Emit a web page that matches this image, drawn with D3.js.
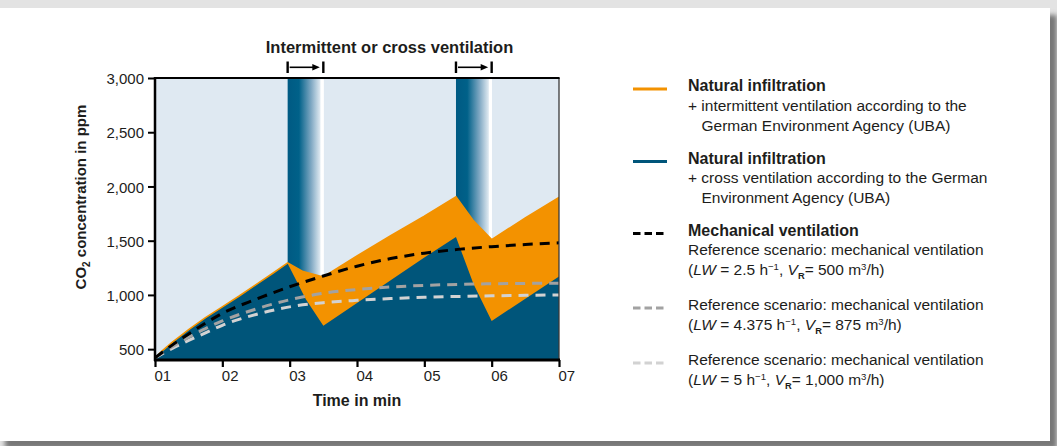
<!DOCTYPE html>
<html lang="en">
<head>
<meta charset="UTF-8">
<title>CO2 concentration - ventilation scenarios</title>
<script src="https://cdn.jsdelivr.net/npm/d3@7"></script>
<style>
  body { margin: 0; background: #e3e3e3; }
  svg { display: block; font-family: "Liberation Sans", Arial, sans-serif; }
</style>
</head>
<body>
<svg id="chart" width="1057" height="446"></svg>
<script>
// time in min, labelled 01..07
const timeTicks = [1, 2, 3, 4, 5, 6, 7];
const ppmTicks = [500, 1000, 1500, 2000, 2500, 3000];

// periods with open windows (min)
const ventWindows = [[2.97, 3.5], [5.47, 6.0]];

// natural infiltration + intermittent ventilation (orange)
const intermittentTime = [1, 1.12, 1.25, 1.5, 1.75, 2.0, 2.25, 2.5, 2.75, 2.97, 3.2, 3.5, 4.0, 4.5, 5.0, 5.47, 5.72, 6.0, 6.5, 7.0];
const intermittentPpm  = [420, 492, 560, 680, 790, 890, 990, 1095, 1200, 1295, 1215, 1165, 1360, 1545, 1725, 1905, 1690, 1510, 1710, 1900];

// natural infiltration + cross ventilation (blue)
const crossTime = [1, 1.12, 1.25, 1.5, 1.75, 2.0, 2.25, 2.5, 2.75, 2.97, 3.24, 3.5, 4.0, 4.5, 5.0, 5.47, 5.73, 6.0, 6.5, 7.0];
const crossPpm  = [420, 490, 557, 677, 787, 887, 987, 1092, 1197, 1290, 960, 715, 925, 1135, 1345, 1535, 1100, 760, 965, 1170];

// mechanical ventilation, reference scenarios
const mechTime = [1, 1.25, 1.5, 1.75, 2, 2.5, 3, 3.5, 4, 4.5, 5, 5.5, 6, 6.5, 7];
const mech500  = [420, 535, 640, 740, 830, 960, 1075, 1175, 1265, 1335, 1385, 1420, 1445, 1465, 1480];
const mech875  = [420, 520, 610, 690, 760, 870, 955, 1015, 1050, 1073, 1088, 1097, 1103, 1106, 1108];
const mech1000 = [420, 505, 580, 650, 720, 820, 890, 928, 950, 966, 978, 986, 992, 996, 1000];

const orange = "#f39200", blue = "#00557a", ink = "#1d1d1b";

const svg = d3.select("#chart");
const defs = svg.append("defs");

// card with drop shadow
defs.append("filter").attr("id", "shadow")
  .attr("x", "-2%").attr("y", "-5%").attr("width", "104%").attr("height", "110%")
  .append("feGaussianBlur").attr("stdDeviation", 2.5);
svg.append("rect").attr("x", 5).attr("y", 15).attr("width", 1052).attr("height", 434)
  .attr("fill", "#777").attr("filter", "url(#shadow)");
svg.append("rect").attr("x", 0).attr("y", 8).attr("width", 1050).attr("height", 433).attr("fill", "#fff");

const plot = { left: 155, right: 559, top: 78, bottom: 360 };
const x = d3.scaleLinear().domain([1, 7]).range([plot.left, plot.right]);
const y = d3.scaleLinear().domain([400, 3000]).range([plot.bottom, plot.top]);

defs.append("clipPath").attr("id", "plotClip").append("rect")
  .attr("x", plot.left).attr("y", plot.top)
  .attr("width", plot.right - plot.left).attr("height", plot.bottom - plot.top);

svg.append("rect")
  .attr("x", plot.left).attr("y", plot.top)
  .attr("width", plot.right - plot.left).attr("height", plot.bottom - plot.top)
  .attr("fill", "#dfe9f2");

// gradient for window opening bands
const grad = defs.append("linearGradient").attr("id", "ventGrad")
  .attr("x1", 0).attr("x2", 1).attr("y1", 0).attr("y2", 0);
[[0, "#005a83"], [0.3, "#006189"], [0.62, "#7ea7c2"], [0.86, "#dde8f0"],
 [0.88, "#ffffff"], [0.95, "#ffffff"], [0.96, "#dfe9f2"], [1, "#dfe9f2"]]
  .forEach(s => grad.append("stop").attr("offset", s[0]).attr("stop-color", s[1]));

const inner = svg.append("g").attr("clip-path", "url(#plotClip)");

inner.selectAll(".vent").data(ventWindows).join("rect")
  .attr("class", "vent")
  .attr("x", d => x(d[0]))
  .attr("width", d => x(d[1]) - x(d[0]) + 2)
  .attr("y", plot.top).attr("height", plot.bottom - plot.top)
  .attr("fill", "url(#ventGrad)");

const area = d3.area().x(d => x(d[0])).y0(y(400)).y1(d => y(d[1]));
const line = d3.line().x(d => x(d[0])).y(d => y(d[1]));
const smooth = d3.line().x(d => x(d[0])).y(d => y(d[1])).curve(d3.curveMonotoneX);

const orangeData = d3.zip(intermittentTime, intermittentPpm);
const blueData = d3.zip(crossTime, crossPpm);

inner.append("path").attr("d", area(orangeData)).attr("fill", orange);
inner.append("path").attr("d", area(blueData)).attr("fill", blue);
inner.append("path").attr("d", line(orangeData))
  .attr("fill", "none").attr("stroke", orange).attr("stroke-width", 1.6);

const mechSeries = [
  { values: mech1000, color: "#d2d2d2" },
  { values: mech875, color: "#a2a2a2" },
  { values: mech500, color: "#000" }
];
inner.selectAll(".mech").data(mechSeries).join("path")
  .attr("class", "mech")
  .attr("d", d => smooth(d3.zip(mechTime, d.values)))
  .attr("fill", "none")
  .attr("stroke", d => d.color)
  .attr("stroke-width", 3)
  .attr("stroke-dasharray", "10,7");

// frame
svg.append("line").attr("x1", plot.right).attr("x2", plot.right)
  .attr("y1", plot.top).attr("y2", plot.bottom).attr("stroke", "#3a3a3a").attr("stroke-width", 1.3);
svg.append("line").attr("x1", plot.left - 1).attr("x2", plot.right + 0.6)
  .attr("y1", plot.top).attr("y2", plot.top).attr("stroke", "#000").attr("stroke-width", 2.2);

// axes
const yAxis = d3.axisLeft(y).tickValues(ppmTicks).tickFormat(d3.format(","))
  .tickSizeInner(7).tickSizeOuter(0).tickPadding(4);
const gy = svg.append("g").attr("transform", `translate(${plot.left},0)`).call(yAxis);
gy.attr("font-family", null).attr("font-size", 15);
gy.select(".domain").remove();
gy.selectAll(".tick line").attr("stroke", "#000").attr("stroke-width", 2);
gy.selectAll(".tick text").attr("fill", ink).attr("dy", "0.38em");

const xAxis = d3.axisBottom(x).tickValues(timeTicks).tickFormat(d3.format("02d"))
  .tickSizeInner(7).tickSizeOuter(0).tickPadding(3);
const gx = svg.append("g").attr("transform", `translate(0,${plot.bottom})`).call(xAxis);
gx.attr("font-family", null).attr("font-size", 15);
gx.select(".domain").remove();
gx.selectAll(".tick line").attr("stroke", "#000").attr("stroke-width", 2.2);
gx.selectAll(".tick text").attr("fill", ink).attr("text-anchor", "start").attr("x", -1);

svg.append("line").attr("x1", plot.left).attr("x2", plot.left)
  .attr("y1", plot.top - 1).attr("y2", plot.bottom + 1).attr("stroke", "#000").attr("stroke-width", 2.5);
svg.append("line").attr("x1", plot.left - 1).attr("x2", plot.right + 1)
  .attr("y1", plot.bottom).attr("y2", plot.bottom).attr("stroke", "#000").attr("stroke-width", 3);

// axis titles
const yTitle = svg.append("text")
  .attr("transform", `translate(85.5,${(plot.top + plot.bottom) / 2 - 22}) rotate(-90)`)
  .attr("text-anchor", "middle").attr("font-weight", "bold").attr("font-size", 15).attr("fill", ink);
yTitle.append("tspan").text("CO");
yTitle.append("tspan").attr("font-size", 10).attr("baseline-shift", "-4").text("2");
yTitle.append("tspan").text(" concentration in ppm");

svg.append("text").attr("x", (plot.left + plot.right) / 2).attr("y", 405.5)
  .attr("text-anchor", "middle").attr("font-weight", "bold").attr("font-size", 16).attr("fill", ink)
  .text("Time in min");

// header with opening arrows
svg.append("text").attr("x", 389.5).attr("y", 53)
  .attr("text-anchor", "middle").attr("font-weight", "bold").attr("font-size", 16.5).attr("fill", ink)
  .text("Intermittent or cross ventilation");

const arrows = svg.selectAll(".arrow").data(ventWindows).join("g").attr("class", "arrow");
arrows.append("line").attr("x1", d => x(d[0])).attr("x2", d => x(d[0]))
  .attr("y1", 61.5).attr("y2", 73).attr("stroke", "#000").attr("stroke-width", 2.4);
arrows.append("line").attr("x1", d => x(d[1])).attr("x2", d => x(d[1]))
  .attr("y1", 61.5).attr("y2", 73).attr("stroke", "#000").attr("stroke-width", 2.4);
arrows.append("line").attr("x1", d => x(d[0]) + 2).attr("x2", d => x(d[1]) - 9)
  .attr("y1", 67.3).attr("y2", 67.3).attr("stroke", "#000").attr("stroke-width", 1.6);
arrows.append("path")
  .attr("d", d => `M${x(d[1]) - 3.5},67.3 L${x(d[1]) - 11},64 L${x(d[1]) - 11},70.6 Z`)
  .attr("fill", "#000");

// legend
function richText(g, px, py, parts, size) {
  const t = g.append("text").attr("x", px).attr("y", py).attr("font-size", size).attr("fill", ink);
  parts.forEach(p => {
    const [str, style] = typeof p === "string" ? [p, ""] : p;
    const s = t.append("tspan").text(str);
    if (style.includes("b")) s.attr("font-weight", "bold");
    if (style.includes("i")) s.attr("font-style", "italic");
    if (style.includes("sub")) s.attr("font-size", size * 0.6).attr("baseline-shift", "-4");
    if (style.includes("sup")) s.attr("font-size", size * 0.62).attr("baseline-shift", "5");
  });
  return t;
}

const lw = (rate, vol) => ["(", ["LW", "i"], ` = ${rate} h`, ["\u22121", "sup"], ", ",
  ["V", "i"], ["R", "sub"], `= ${vol} m`, ["3", "sup"], "/h)"];

const legendEntries = [
  { color: orange, dash: null, lines: [
      [["Natural infiltration", "b"]],
      ["+ intermittent ventilation according to the"],
      ["German Environment Agency (UBA)"]] },
  { color: blue, dash: null, lines: [
      [["Natural infiltration", "b"]],
      ["+ cross ventilation according to the German"],
      ["Environment Agency (UBA)"]] },
  { color: "#000", dash: "7.5,4", lines: [
      [["Mechanical ventilation", "b"]],
      ["Reference scenario: mechanical ventilation"],
      lw("2.5", "500")] },
  { color: "#a2a2a2", dash: "7.5,4", lines: [
      ["Reference scenario: mechanical ventilation"],
      lw("4.375", "875")] },
  { color: "#d2d2d2", dash: "7.5,4", lines: [
      ["Reference scenario: mechanical ventilation"],
      lw("5", "1,000")] }
];
const legendTop = [91, 163.5, 235.5, 310, 365];

const legend = svg.append("g");
legendEntries.forEach((e, i) => {
  const by = legendTop[i];
  legend.append("line").attr("x1", 633).attr("x2", 667)
    .attr("y1", by - 2).attr("y2", by - 2)
    .attr("stroke", e.color).attr("stroke-width", 3)
    .attr("stroke-dasharray", e.dash);
  e.lines.forEach((ln, j) => {
    const indent = (i < 2 && j === 2) ? 701.5 : 688;
    const bold = ln.length === 1 && Array.isArray(ln[0]) && ln[0][1] === "b";
    richText(legend, indent, by + j * 19.8, ln, bold ? 16 : 15.5);
  });
});
</script>
</body>
</html>
